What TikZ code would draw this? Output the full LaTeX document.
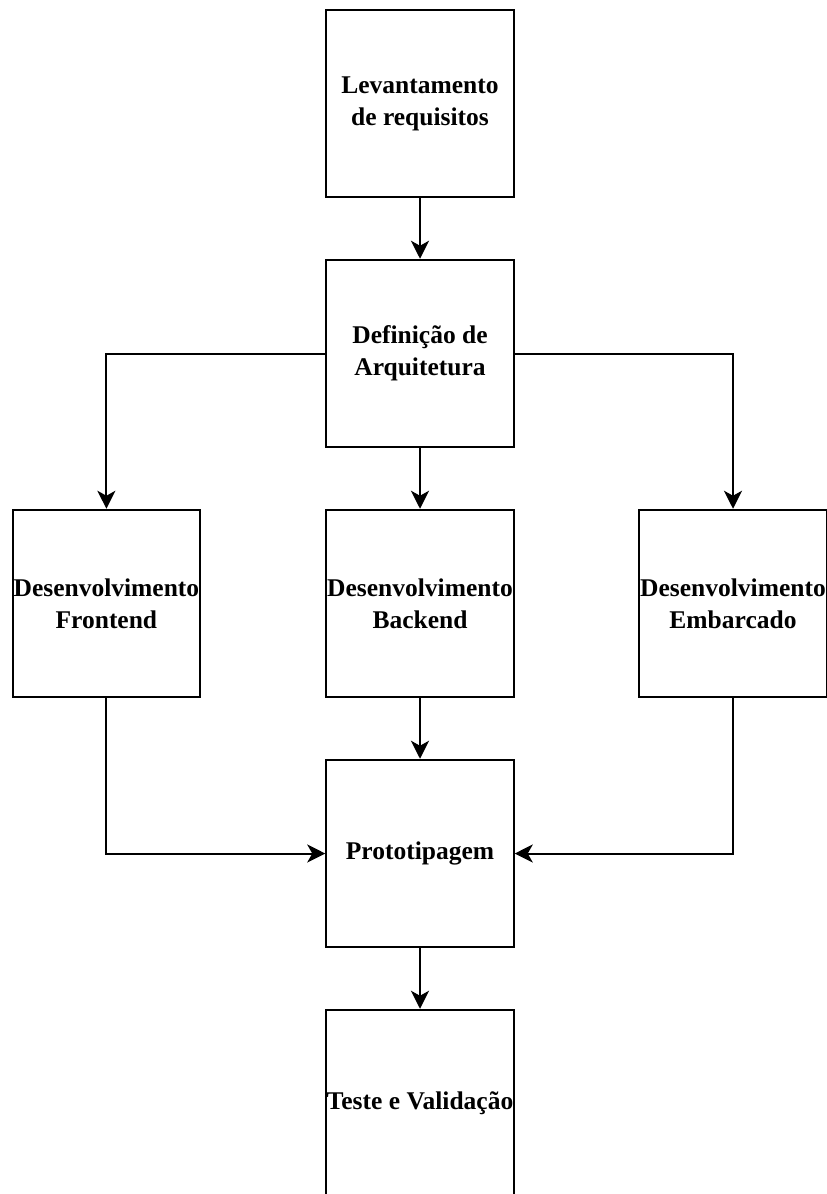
\documentclass[tikz,border=0pt]{standalone}
\usepackage{fontspec}
\setmainfont{Liberation Serif}
\usetikzlibrary{arrows.meta}
\begin{document}
\begin{tikzpicture}[x=1pt,y=-1pt,
  procbox/.style={draw=black,line width=2pt,fill=white,minimum width=187.5pt,minimum height=187.5pt,inner sep=0pt,align=center,font=\fontsize{25.5}{32}\selectfont\bfseries},
  conn/.style={line width=2pt,-{Stealth[length=18pt,width=18pt,inset=5pt]}}]
\useasboundingbox (0,0) rectangle (827,1194);
\node[procbox] (req) at (420,103.5) {Levantamento\\de requisitos};
\node[procbox] (arq) at (420,353.5) {Definição de\\Arquitetura};
\node[procbox] (front) at (106.4,603.5) {Desenvolvimento\\Frontend};
\node[procbox] (back) at (420,603.5) {Desenvolvimento\\Backend};
\node[procbox] (emb) at (733,603.5) {Desenvolvimento\\Embarcado};
\node[procbox] (proto) at (420,853.5) {Prototipagem};
\node[procbox] (teste) at (420,1103.5) {Teste e Validação};
\draw[conn] (req) -- (arq);
\draw[conn] (arq.west) -| (front.north);
\draw[conn] (arq) -- (back);
\draw[conn] (arq.east) -| (emb.north);
\draw[conn] (back) -- (proto);
\draw[conn] (front.south) |- (proto.west);
\draw[conn] (emb.south) |- (proto.east);
\draw[conn] (proto) -- (teste);
\end{tikzpicture}
\end{document}
